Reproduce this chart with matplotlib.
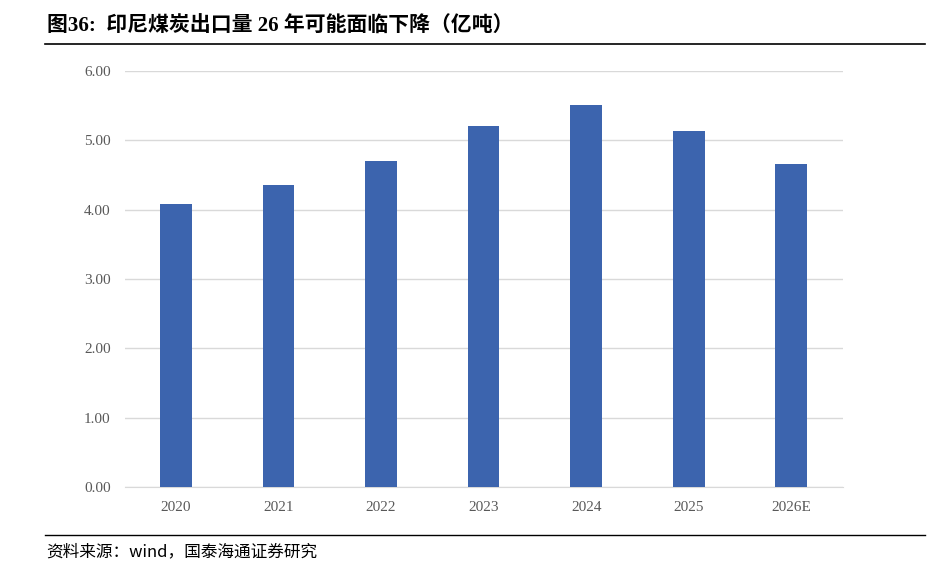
import matplotlib
matplotlib.use("Agg")
import matplotlib.pyplot as plt
from matplotlib.lines import Line2D

categories = ["2020", "2021", "2022", "2023", "2024", "2025", "2026E"]
values = [4.08, 4.36, 4.70, 5.21, 5.51, 5.13, 4.66]
yticks = [0, 1, 2, 3, 4, 5, 6]

plt.rcParams['font.family'] = ['Liberation Serif', 'Noto Sans CJK SC']
fig = plt.figure(figsize=(9.3, 5.88), dpi=100)
ax = fig.add_axes([0.134, 0.172, 0.772, 0.707])
x = range(len(categories))
ax.bar(x, values, width=0.31, color='#3C64AE', zorder=3)
ax.set_xlim(-0.5, len(categories) - 0.5)
ax.set_ylim(0, 6)
ax.set_yticks(yticks)
ax.set_yticklabels([f"{v:.2f}" for v in yticks], fontsize=11, color='#595959')
ax.set_xticks(list(x))
ax.set_xticklabels(categories, fontsize=11, color='#595959')
ax.grid(axis='y', color='#D9D9D9', linewidth=1, zorder=0)
for s in ['top', 'right', 'left']:
    ax.spines[s].set_visible(False)
ax.spines['bottom'].set_color('#D9D9D9')
ax.tick_params(length=0, pad=10)

fig.text(0.05, 0.955, "图36:  印尼煤炭出口量 26 年可能面临下降（亿吨）", fontsize=15,
         fontweight='bold', family=['Liberation Serif', 'Noto Sans CJK SC'], va='center')
fig.add_artist(Line2D([0.048, 0.995], [0.926, 0.926], color='black', linewidth=1.2))
fig.add_artist(Line2D([0.048, 0.995], [0.09, 0.09], color='black', linewidth=1))
fig.text(0.05, 0.062, "资料来源：wind，国泰海通证券研究", fontsize=12,
         family=['Noto Sans CJK SC', 'Liberation Serif'], va='center')
fig.savefig("out.png", dpi=100)
